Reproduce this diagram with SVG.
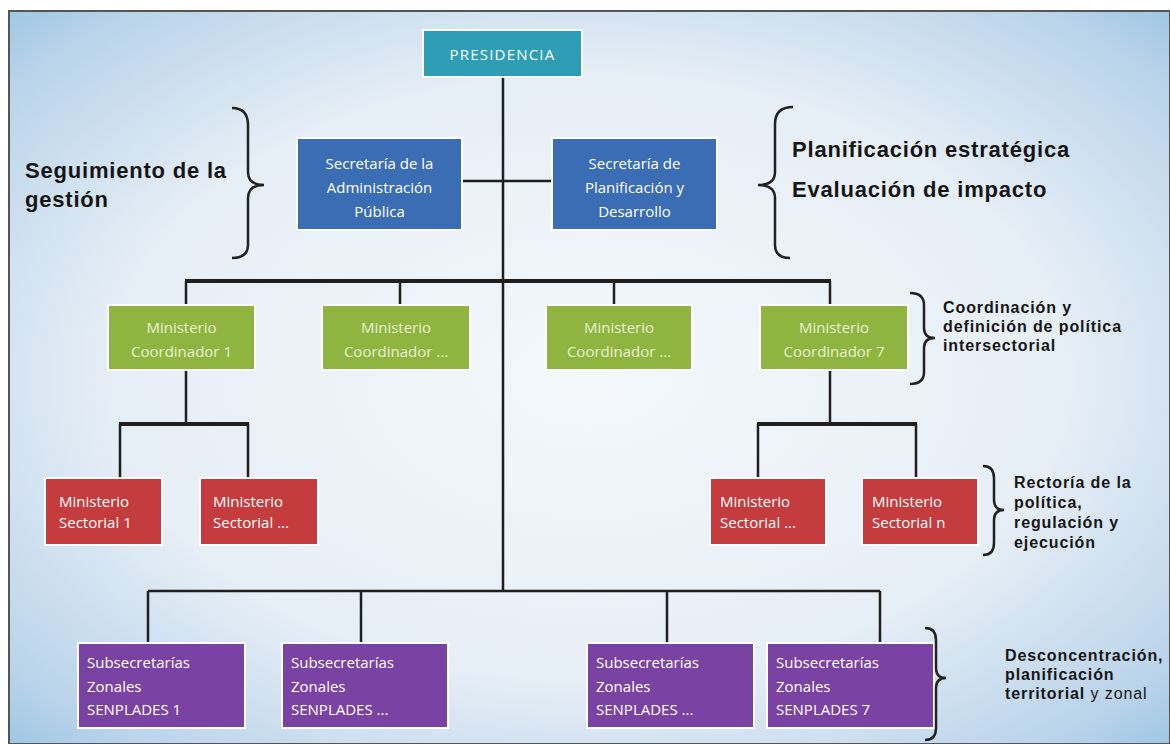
<svg xmlns="http://www.w3.org/2000/svg" width="1170" height="744" viewBox="0 0 1170 744">
<defs>
<radialGradient id="bg" cx="0.5" cy="0.5" r="0.75">
<stop offset="0" stop-color="#f4f8fb"/>
<stop offset="0.55" stop-color="#e6eef6"/>
<stop offset="0.85" stop-color="#b9d3ea"/>
<stop offset="1" stop-color="#8fc0e0"/>
</radialGradient>
<style>
.box{stroke:#ffffff;stroke-width:2}
.pres{fill:#2f9db5}
.sec{fill:#3b6db4}
.coord{fill:#8fb540}
.sect{fill:#c43c3d}
.sub{fill:#7a42a2}
.bt{font-family:"Open Sans","Liberation Sans",sans-serif;font-size:15px;fill:#ffffff}
.gt{font-family:"Open Sans","Liberation Sans",sans-serif;font-size:15px;fill:#e8f2d2}
.ln{stroke:#1f1f1f;stroke-width:2.5;fill:none}
.br{stroke:#222;stroke-width:2.5;fill:none}
.lbl{font-family:"Liberation Sans",Arial,sans-serif;font-weight:bold;fill:#151515}
.big{font-size:22px;letter-spacing:0.8px}
.sm{font-size:16px;letter-spacing:0.9px}
</style>
</defs>
<rect x="0" y="0" width="1170" height="744" fill="#ffffff"/>
<rect x="9" y="11" width="1161" height="733" fill="url(#bg)" stroke="#555" stroke-width="2"/>

<g id="connectors">
<line class="ln" x1="503" y1="77" x2="503" y2="591"/>
<line class="ln" x1="462" y1="181" x2="552" y2="181"/>
<line x1="185" y1="281" x2="831" y2="281" stroke="#1f1f1f" stroke-width="4"/>
<line class="ln" x1="186" y1="281" x2="186" y2="305"/>
<line class="ln" x1="400" y1="281" x2="400" y2="305"/>
<line class="ln" x1="614" y1="281" x2="614" y2="305"/>
<line class="ln" x1="830" y1="281" x2="830" y2="305"/>
<line class="ln" x1="186" y1="370" x2="186" y2="424"/>
<line x1="119" y1="424" x2="249" y2="424" stroke="#1f1f1f" stroke-width="4"/>
<line class="ln" x1="120" y1="424" x2="120" y2="478"/>
<line class="ln" x1="248" y1="424" x2="248" y2="478"/>
<line class="ln" x1="830" y1="370" x2="830" y2="424"/>
<line x1="757" y1="424" x2="917" y2="424" stroke="#1f1f1f" stroke-width="4"/>
<line class="ln" x1="758" y1="424" x2="758" y2="478"/>
<line class="ln" x1="916" y1="424" x2="916" y2="478"/>
<line class="ln" x1="148" y1="591" x2="880" y2="591"/>
<line class="ln" x1="148" y1="591" x2="148" y2="643"/>
<line class="ln" x1="361" y1="591" x2="361" y2="643"/>
<line class="ln" x1="667" y1="591" x2="667" y2="643"/>
<line class="ln" x1="880" y1="591" x2="880" y2="643"/>
</g>

<g id="presidencia">
<rect class="box pres" x="423" y="30" width="159" height="47"/>
<text class="bt" x="502.5" y="60" text-anchor="middle" font-size="17" letter-spacing="1.2">PRESIDENCIA</text>
</g>

<g id="sec-admin">
<rect class="box sec" x="297" y="138" width="165" height="92"/>
<text class="bt" text-anchor="middle" font-size="16"><tspan x="379.5" y="169">Secretaría de la</tspan><tspan x="379.5" y="193">Administración</tspan><tspan x="379.5" y="217">Pública</tspan></text>
</g>
<g id="sec-plan">
<rect class="box sec" x="552" y="138" width="165" height="92"/>
<text class="bt" text-anchor="middle" font-size="16"><tspan x="634.5" y="169">Secretaría de</tspan><tspan x="634.5" y="193">Planificación y</tspan><tspan x="634.5" y="217">Desarrollo</tspan></text>
</g>

<g id="coord-1">
<rect class="box coord" x="108" y="305" width="147" height="65"/>
<text class="gt" text-anchor="middle"><tspan x="181.5" y="333">Ministerio</tspan><tspan x="181.5" y="357">Coordinador 1</tspan></text>
</g>
<g id="coord-2">
<rect class="box coord" x="322" y="305" width="148" height="65"/>
<text class="gt" text-anchor="middle"><tspan x="396" y="333">Ministerio</tspan><tspan x="396" y="357">Coordinador ...</tspan></text>
</g>
<g id="coord-3">
<rect class="box coord" x="546" y="305" width="146" height="65"/>
<text class="gt" text-anchor="middle"><tspan x="619" y="333">Ministerio</tspan><tspan x="619" y="357">Coordinador ...</tspan></text>
</g>
<g id="coord-4">
<rect class="box coord" x="760" y="305" width="148" height="65"/>
<text class="gt" text-anchor="middle"><tspan x="834" y="333">Ministerio</tspan><tspan x="834" y="357">Coordinador 7</tspan></text>
</g>

<g id="sect-1">
<rect class="box sect" x="45" y="478" width="117" height="67"/>
<text class="bt"><tspan x="59" y="507">Ministerio</tspan><tspan x="59" y="528">Sectorial 1</tspan></text>
</g>
<g id="sect-2">
<rect class="box sect" x="200" y="478" width="118" height="67"/>
<text class="bt"><tspan x="213" y="507">Ministerio</tspan><tspan x="213" y="528">Sectorial ...</tspan></text>
</g>
<g id="sect-3">
<rect class="box sect" x="710" y="478" width="116" height="67"/>
<text class="bt"><tspan x="720" y="507">Ministerio</tspan><tspan x="720" y="528">Sectorial ...</tspan></text>
</g>
<g id="sect-4">
<rect class="box sect" x="862" y="478" width="116" height="67"/>
<text class="bt"><tspan x="872" y="507">Ministerio</tspan><tspan x="872" y="528">Sectorial n</tspan></text>
</g>

<g id="sub-1">
<rect class="box sub" x="78" y="643" width="167" height="85"/>
<text class="bt"><tspan x="87" y="668">Subsecretarías</tspan><tspan x="87" y="692">Zonales</tspan><tspan x="87" y="715">SENPLADES 1</tspan></text>
</g>
<g id="sub-2">
<rect class="box sub" x="282" y="643" width="166" height="85"/>
<text class="bt"><tspan x="291" y="668">Subsecretarías</tspan><tspan x="291" y="692">Zonales</tspan><tspan x="291" y="715">SENPLADES ...</tspan></text>
</g>
<g id="sub-3">
<rect class="box sub" x="587" y="643" width="167" height="85"/>
<text class="bt"><tspan x="596" y="668">Subsecretarías</tspan><tspan x="596" y="692">Zonales</tspan><tspan x="596" y="715">SENPLADES ...</tspan></text>
</g>
<g id="sub-4">
<rect class="box sub" x="767" y="643" width="167" height="85"/>
<text class="bt"><tspan x="776" y="668">Subsecretarías</tspan><tspan x="776" y="692">Zonales</tspan><tspan x="776" y="715">SENPLADES 7</tspan></text>
</g>

<g id="brace-seguimiento">
<path class="br" d="M232,108 Q248,108 248,125 L248,172 Q248,185 264,185 Q248,185 248,198 L248,245 Q248,258 232,258"/>
<text class="lbl big"><tspan x="25" y="178">Seguimiento de la</tspan><tspan x="25" y="207">gestión</tspan></text>
</g>
<g id="brace-planificacion">
<path class="br" d="M793,107 Q775,107 775,124 L775,172 Q775,185 758,185 Q775,185 775,198 L775,245 Q775,258 790,258"/>
<text class="lbl big"><tspan x="792" y="157">Planificación estratégica</tspan><tspan x="792" y="197">Evaluación de impacto</tspan></text>
</g>
<g id="brace-coordinacion">
<path class="br" d="M910,293 Q924,293 924,305 L924,328 Q924,338 935,338 Q924,338 924,348 L924,372 Q924,384 910,384"/>
<text class="lbl sm"><tspan x="943" y="313">Coordinación y</tspan><tspan x="943" y="332">definición de política</tspan><tspan x="943" y="351">intersectorial</tspan></text>
</g>
<g id="brace-rectoria">
<path class="br" d="M983,466 Q994,466 994,478 L994,500 Q994,510 1004,510 Q994,510 994,520 L994,543 Q994,555 983,555"/>
<text class="lbl sm"><tspan x="1014" y="488">Rectoría de la</tspan><tspan x="1014" y="508">política,</tspan><tspan x="1014" y="528">regulación y</tspan><tspan x="1014" y="548">ejecución</tspan></text>
</g>
<g id="brace-desconcentracion">
<path class="br" d="M925,628 Q936,628 936,640 L936,668 Q936,678 946,678 Q936,678 936,688 L936,728 Q936,740 925,740"/>
<text class="lbl sm"><tspan x="1005" y="661">Desconcentración,</tspan><tspan x="1005" y="680">planificación</tspan><tspan x="1005" y="699">territorial <tspan font-weight="normal">y zonal</tspan></tspan></text>
</g>
</svg>
